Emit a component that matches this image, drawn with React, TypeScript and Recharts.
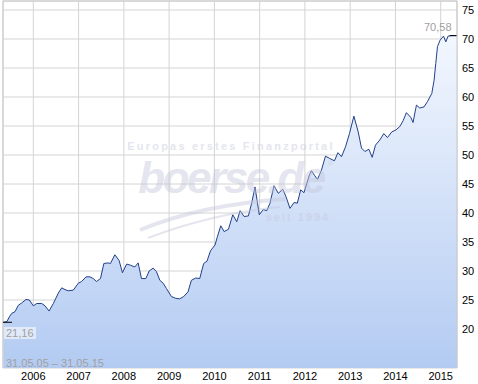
import { ComposedChart, Area, XAxis, YAxis, CartesianGrid, ReferenceLine } from "recharts";

// price readings, t = fractional year
const times = [
  2005.340, 2005.418, 2005.470, 2005.523, 2005.596, 2005.669, 2005.744, 2005.839, 2005.912, 2006.000, 2006.075,
  2006.186, 2006.258, 2006.347, 2006.442, 2006.552, 2006.627, 2006.700, 2006.773, 2006.883, 2006.994, 2007.069,
  2007.164, 2007.252, 2007.323, 2007.395, 2007.484, 2007.558, 2007.653, 2007.704, 2007.801, 2007.896, 2007.969,
  2008.062, 2008.146, 2008.243, 2008.316, 2008.389, 2008.486, 2008.558, 2008.647, 2008.720, 2008.795, 2008.868,
  2008.940, 2009.051, 2009.146, 2009.234, 2009.322, 2009.417, 2009.492, 2009.588, 2009.676, 2009.764, 2009.837,
  2009.915, 2010.015, 2010.066, 2010.141, 2010.216, 2010.311, 2010.406, 2010.494, 2010.568, 2010.656, 2010.751,
  2010.824, 2010.897, 2010.992, 2011.081, 2011.156, 2011.229, 2011.317, 2011.413, 2011.510, 2011.583, 2011.670,
  2011.759, 2011.833, 2011.906, 2011.980, 2012.041, 2012.101, 2012.145, 2012.211, 2012.278, 2012.366, 2012.454,
  2012.550, 2012.652, 2012.729, 2012.808, 2012.896, 2012.985, 2013.082, 2013.177, 2013.250, 2013.325, 2013.413,
  2013.486, 2013.559, 2013.656, 2013.744, 2013.823, 2013.920, 2014.008, 2014.096, 2014.169, 2014.242, 2014.338,
  2014.389, 2014.448, 2014.464, 2014.537, 2014.632, 2014.707, 2014.803, 2014.854, 2014.891, 2014.929, 2014.987,
  2015.062, 2015.113, 2015.164, 2015.237, 2015.310, 2015.370,
];

const prices = [
  21.16, 21.3, 22.1, 22.7, 23.0, 24.1, 24.5, 25.1, 25.0, 24.0, 24.4,
  24.4, 24.0, 23.1, 24.4, 26.2, 27.1, 26.8, 26.6, 26.7, 27.9, 28.2,
  29.0, 29.0, 28.7, 28.2, 28.7, 31.3, 31.4, 31.3, 32.8, 31.8, 29.7,
  31.2, 31.0, 30.7, 31.4, 28.7, 28.7, 30.0, 30.5, 29.9, 28.4, 27.9,
  27.0, 25.6, 25.3, 25.2, 25.6, 26.4, 28.4, 28.8, 28.7, 31.3, 31.7,
  33.5, 34.5, 35.9, 37.8, 36.8, 37.2, 39.7, 38.5, 40.4, 39.4, 39.5,
  41.7, 44.5, 39.7, 40.6, 40.4, 41.7, 44.7, 43.4, 44.1, 42.8, 40.8,
  41.8, 41.7, 44.0, 43.5, 45.1, 46.6, 47.3, 46.5, 45.8, 47.4, 49.8,
  49.4, 49.0, 50.4, 49.7, 51.4, 53.7, 56.7, 54.0, 51.2, 50.6, 51.0,
  49.6, 51.7, 52.6, 53.7, 53.0, 54.0, 54.3, 54.9, 55.9, 57.3, 56.5,
  55.6, 58.0, 58.6, 58.1, 58.3, 59.2, 60.6, 62.9, 65.8, 68.7, 69.8,
  70.5, 69.5, 70.5, 70.58, 70.58, 70.58,
];

const yearTicks = [2006, 2007, 2008, 2009, 2010, 2011, 2012, 2013, 2014, 2015];
const priceTicks = [20, 25, 30, 35, 40, 45, 50, 55, 60, 65, 70, 75];

const firstPrice = 21.16;
const lastPrice = 70.58;

const data = times.map((t, i) => ({ t, price: prices[i] }));

const X_MIN = 2005.33;
const X_MAX = 2015.36;
const Y_MIN = 13.28;
const Y_MAX = 76.55;

const FONT = "'Liberation Sans', Arial, sans-serif";

export default function App() {
  return (
    <div style={{ position: "absolute", left: 0, top: 0, width: 478, height: 384, background: "#fff", fontFamily: FONT }}>
      <ComposedChart width={478} height={384} data={data} margin={{ top: 1, right: 0, bottom: 0, left: 3 }}>
        <defs>
          <linearGradient id="fillGrad" x1="0" y1="0" x2="0" y2="1">
            <stop offset="0%" stopColor="#f3f7fe" />
            <stop offset="100%" stopColor="#b3cbf2" />
          </linearGradient>
        </defs>
        <CartesianGrid stroke="#d4d4d4" strokeWidth={1} />
        <XAxis
          dataKey="t"
          type="number"
          domain={[X_MIN, X_MAX]}
          ticks={yearTicks}
          allowDataOverflow
          axisLine={false}
          tickLine={false}
          tickSize={0}
          tickMargin={4}
          height={16}
          tick={{ fill: "#000", fontSize: 11, fontFamily: FONT }}
        />
        <YAxis
          orientation="right"
          type="number"
          domain={[Y_MIN, Y_MAX]}
          ticks={priceTicks}
          allowDataOverflow
          width={21}
          axisLine={{ stroke: "#c8c8c8" }}
          tickLine={false}
          tickSize={0}
          tickMargin={5}
          tick={{ fill: "#000", fontSize: 11, fontFamily: FONT, textAnchor: "start" }}
        />
        <ReferenceLine y={Y_MAX} stroke="#c8c8c8" />
        <ReferenceLine x={X_MIN} stroke="#c8c8c8" />
        <Area
          type="linear"
          dataKey="price"
          stroke="#22408a"
          strokeWidth={1}
          fill="url(#fillGrad)"
          fillOpacity={1}
          isAnimationActive={false}
          dot={false}
          activeDot={false}
        />
        <ReferenceLine
          segment={[{ x: X_MIN, y: firstPrice }, { x: 2005.53, y: firstPrice }]}
          stroke="#000"
          strokeWidth={1}
        />
        <ReferenceLine
          segment={[{ x: 2015.2, y: lastPrice }, { x: X_MAX, y: lastPrice }]}
          stroke="#000"
          strokeWidth={1}
        />
      </ComposedChart>

      {/* watermark */}
      <svg width={478} height={384} style={{ position: "absolute", left: 0, top: 0, pointerEvents: "none" }}>
        <g opacity={0.45} fill="#c4c7da" fontFamily={FONT} fontWeight="bold">
          <text x={231} y={150} fontSize={11} textAnchor="middle" letterSpacing={2.2}>
            Europas erstes Finanzportal
          </text>
          <text x={231} y={193} fontSize={44} fontStyle="italic" textAnchor="middle" letterSpacing={-2.5}>
            boerse.de
          </text>
          <text x={328} y={166} fontSize={7}>®</text>
          <text x={298} y={221} fontSize={11} textAnchor="middle" letterSpacing={2}>
            seit 1994
          </text>
          <path d="M140 230 Q 200 205 285 199" stroke="#c4c7da" strokeWidth={4} fill="none" />
          <path d="M148 238 Q 210 214 280 207" stroke="#c4c7da" strokeWidth={2} fill="none" />
        </g>
      </svg>

      <div style={{ position: "absolute", left: 424, top: 21, fontSize: 11, color: "#a0a0a0" }}>70,58</div>
      <div
        style={{
          position: "absolute",
          left: 4,
          top: 327,
          padding: "0 2px",
          fontSize: 11,
          color: "#a0a0a0",
          background: "rgba(255,255,255,0.55)",
        }}
      >
        21,16
      </div>
      <div style={{ position: "absolute", left: 6, top: 357, fontSize: 11, color: "#a0a0a0" }}>
        31.05.05 – 31.05.15
      </div>
    </div>
  );
}
